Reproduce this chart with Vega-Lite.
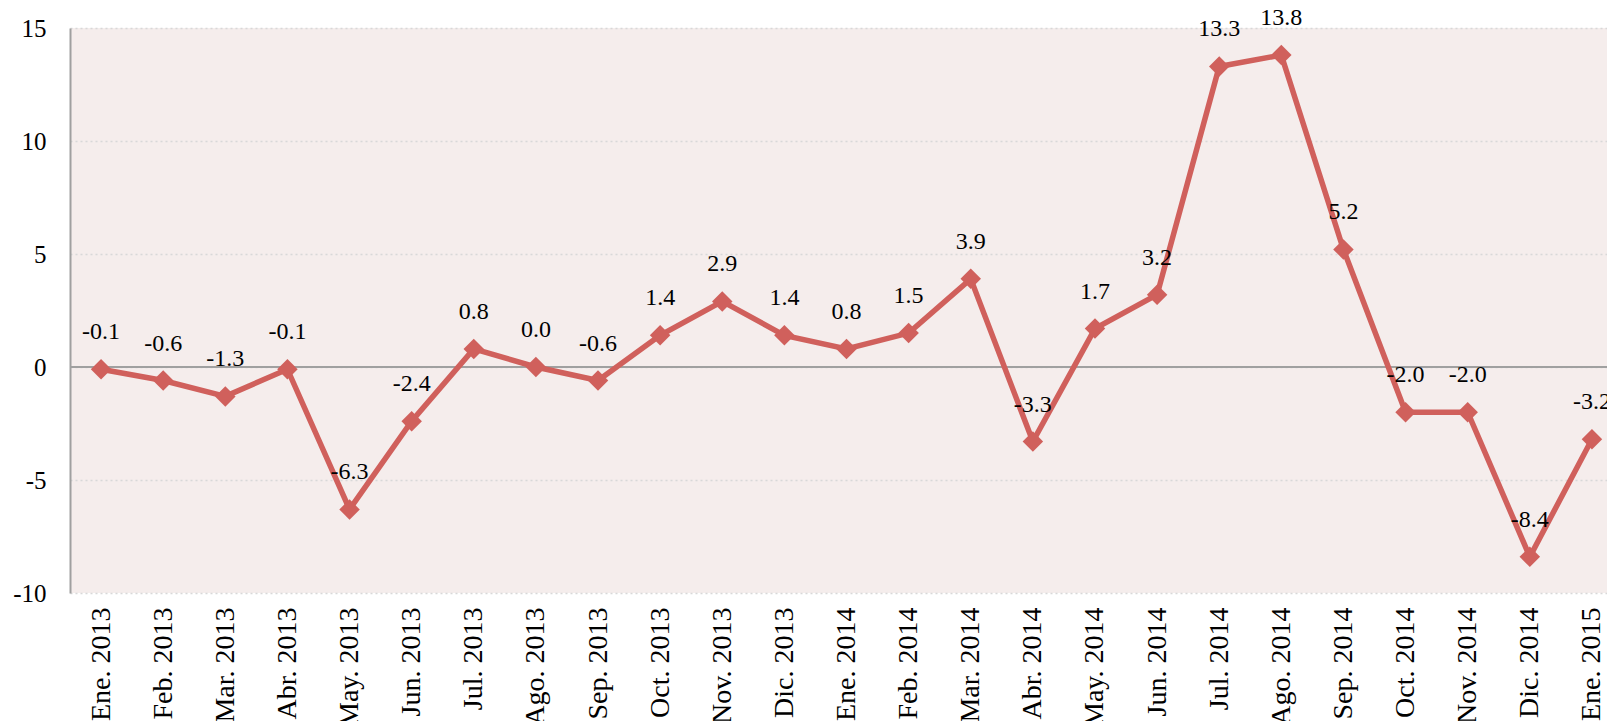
{
  "$schema": "https://vega.github.io/schema/vega-lite/v6.json",
  "autosize": {"type": "none"},
  "padding": {"left": 70, "top": 28, "right": 0, "bottom": 128},
  "width": 1553,
  "height": 565,
  "background": "#ffffff",
  "title": {
    "text": "(índice enero 2012 = 100%)",
    "font": "Liberation Serif",
    "fontSize": 27,
    "fontWeight": "normal",
    "color": "#000000",
    "baseline": "alphabetic",
    "offset": 13,
    "dx": -9,
    "anchor": "middle"
  },
  "config": {
    "view": {"fill": "#F5EDEC", "stroke": null},
    "font": "Liberation Serif"
  },
  "datasets": {
    "serie": [
      {"mes": "Ene. 2013", "valor": -0.1},
      {"mes": "Feb. 2013", "valor": -0.6},
      {"mes": "Mar. 2013", "valor": -1.3},
      {"mes": "Abr. 2013", "valor": -0.1},
      {"mes": "May. 2013", "valor": -6.3},
      {"mes": "Jun. 2013", "valor": -2.4},
      {"mes": "Jul. 2013", "valor": 0.8},
      {"mes": "Ago. 2013", "valor": 0.0},
      {"mes": "Sep. 2013", "valor": -0.6},
      {"mes": "Oct. 2013", "valor": 1.4},
      {"mes": "Nov. 2013", "valor": 2.9},
      {"mes": "Dic. 2013", "valor": 1.4},
      {"mes": "Ene. 2014", "valor": 0.8},
      {"mes": "Feb. 2014", "valor": 1.5},
      {"mes": "Mar. 2014", "valor": 3.9},
      {"mes": "Abr. 2014", "valor": -3.3},
      {"mes": "May. 2014", "valor": 1.7},
      {"mes": "Jun. 2014", "valor": 3.2},
      {"mes": "Jul. 2014", "valor": 13.3},
      {"mes": "Ago. 2014", "valor": 13.8},
      {"mes": "Sep. 2014", "valor": 5.2},
      {"mes": "Oct. 2014", "valor": -2.0},
      {"mes": "Nov. 2014", "valor": -2.0},
      {"mes": "Dic. 2014", "valor": -8.4},
      {"mes": "Ene. 2015", "valor": -3.2}
    ],
    "cero": [{"valor": 0}]
  },
  "layer": [
    {
      "data": {"name": "serie"},
      "mark": {"type": "point", "opacity": 0, "size": 1},
      "encoding": {
        "x": {
          "field": "mes", "type": "nominal", "sort": null,
          "scale": {"type": "point", "padding": 0.5},
          "axis": {
            "title": null, "labelAngle": -90, "labelFontSize": 28,
            "labelFont": "Liberation Serif", "labelColor": "#000000",
            "labelPadding": 14, "ticks": false, "domain": false, "grid": false,
            "labelOverlap": false, "labelBound": false
          }
        },
        "y": {
          "field": "valor", "type": "quantitative",
          "scale": {"domain": [-10, 15], "nice": false, "zero": false},
          "axis": {
            "title": null, "values": [-10, -5, 0, 5, 10, 15],
            "labelExpr": "replace(datum.label, '\u2212', '-')",
            "labelFontSize": 25, "labelFont": "Liberation Serif", "labelColor": "#000000",
            "labelPadding": 24, "ticks": false, "domain": true, "domainColor": "#A0A0A0",
            "domainWidth": 2, "grid": true, "gridColor": "#D8D8D8", "gridDash": [2, 3],
            "gridWidth": 1.5
          }
        }
      }
    },
    {
      "data": {"name": "cero"},
      "mark": {"type": "rule", "color": "#A0A0A0", "strokeWidth": 2},
      "encoding": {"y": {"field": "valor", "type": "quantitative"}}
    },
    {
      "data": {"name": "serie"},
      "mark": {"type": "line", "color": "#D0605C", "strokeWidth": 5.5, "strokeJoin": "miter"},
      "encoding": {
        "x": {"field": "mes", "type": "nominal", "sort": null},
        "y": {"field": "valor", "type": "quantitative"}
      }
    },
    {
      "data": {"name": "serie"},
      "mark": {"type": "point", "shape": "diamond", "filled": true, "color": "#D0605C", "size": 420, "opacity": 1},
      "encoding": {
        "x": {"field": "mes", "type": "nominal", "sort": null},
        "y": {"field": "valor", "type": "quantitative"}
      }
    },
    {
      "data": {"name": "serie"},
      "mark": {
        "type": "text", "font": "Liberation Serif", "fontSize": 24, "color": "#000000",
        "baseline": "alphabetic", "align": "center", "dy": -30,
        "text": {"expr": "replace(format(datum.valor, '.1f'), '\u2212', '-')"}
      },
      "encoding": {
        "x": {"field": "mes", "type": "nominal", "sort": null},
        "y": {"field": "valor", "type": "quantitative"}
      }
    }
  ]
}
